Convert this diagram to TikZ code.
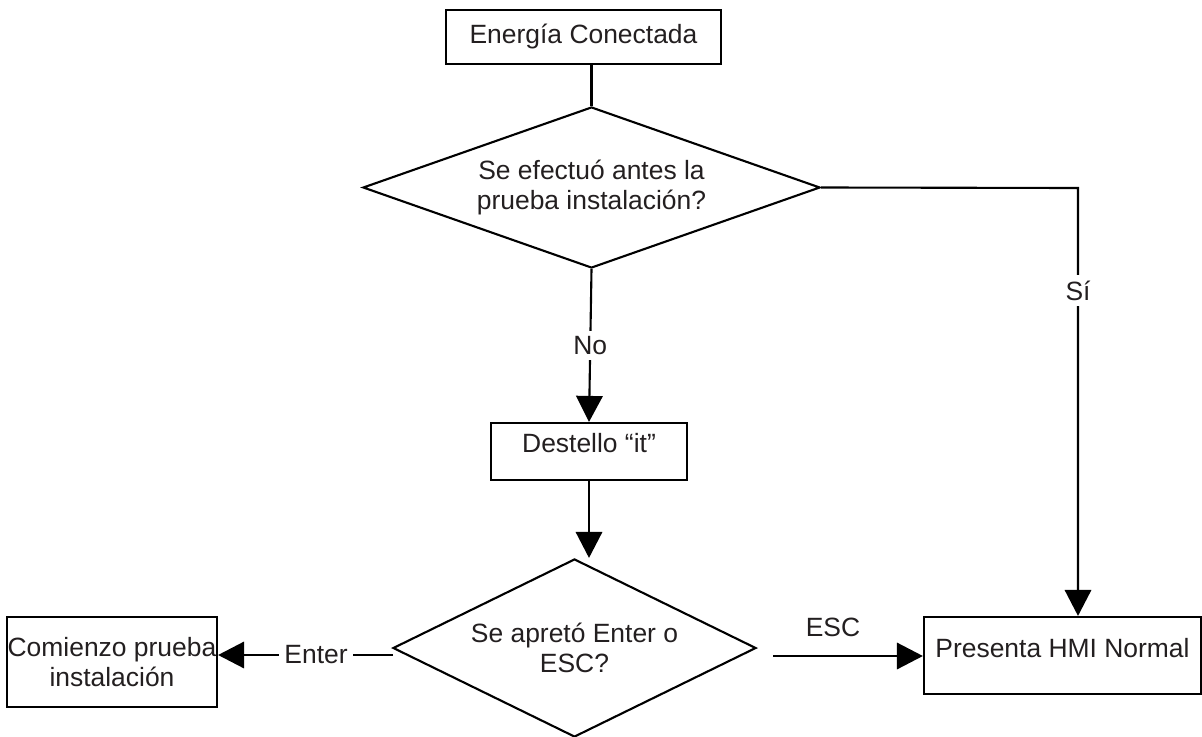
\documentclass[tikz,border=0pt]{standalone}
\usepackage{fontspec}
\setmainfont{Liberation Sans}
\usetikzlibrary{shapes.geometric,arrows.meta,positioning}
\definecolor{texto}{RGB}{35,31,32}

\begin{document}
\begin{tikzpicture}[x=0.025cm,y=-0.025cm,
    font=\fontsize{18.8}{21.5}\selectfont, text=texto,
    caja/.style={draw, line width=1.5pt, rectangle, inner sep=0pt, align=center},
    rombo/.style={draw, line width=1.5pt, diamond, inner sep=0pt, align=center},
    linea/.style={line width=1.5pt},
    flecha/.style={line width=1.5pt, -{Triangle[length=0.65cm,width=0.66cm]}},
    etiq/.style={fill=white, inner sep=4pt}]
    \clip (0,0) rectangle (1202,736);

    % Cajas y decisiones
    \node[caja, minimum width=6.875cm, minimum height=1.35cm] (energia) at (583.5,37) {Energía Conectada};
    \node[rombo, aspect=2.84, minimum width=11.425cm, minimum height=4.025cm] (d1) at (591.5,187.5) {Se efectuó antes la\\prueba instalación?};
    \node[caja, minimum width=4.9cm, minimum height=1.425cm, text depth=0.43cm] (destello) at (589,451.5) {Destello “it”};
    \node[rombo, aspect=2.04, minimum width=9.075cm, minimum height=4.45cm] (d2) at (574.5,648) {Se apretó Enter o\\ESC?};
    \node[caja, minimum width=6.925cm, minimum height=1.925cm, text depth=0.375cm] (hmi) at (1062.5,655.5) {Presenta HMI Normal};
    \node[caja, minimum width=5.25cm, minimum height=2.25cm] (comienzo) at (112,662) {Comienzo prueba\\instalación};

    % Puntos de paso
    \coordinate (si) at (1078,188);
    \coordinate (esc) at (773,656);
    \coordinate (enter) at (393,655);

    % Conexiones
    \draw[linea] (d1.north |- energia.south) -- (d1.north);
    \draw[flecha] (d1.east) -- (si) -- node[etiq, pos=0.24] {Sí} (si |- hmi.north);
    \draw[flecha] (d1.south) -- node[etiq] {No} (destello.north);
    \draw[flecha] (destello.south) -- (destello.south |- d2.north);
    \draw[flecha] (esc) -- node[above=0.33cm, pos=0.4] {ESC} (esc -| hmi.west);
    \draw[flecha] (enter) -- node[etiq, pos=0.44] {Enter} (enter -| comienzo.east);
\end{tikzpicture}
\end{document}
